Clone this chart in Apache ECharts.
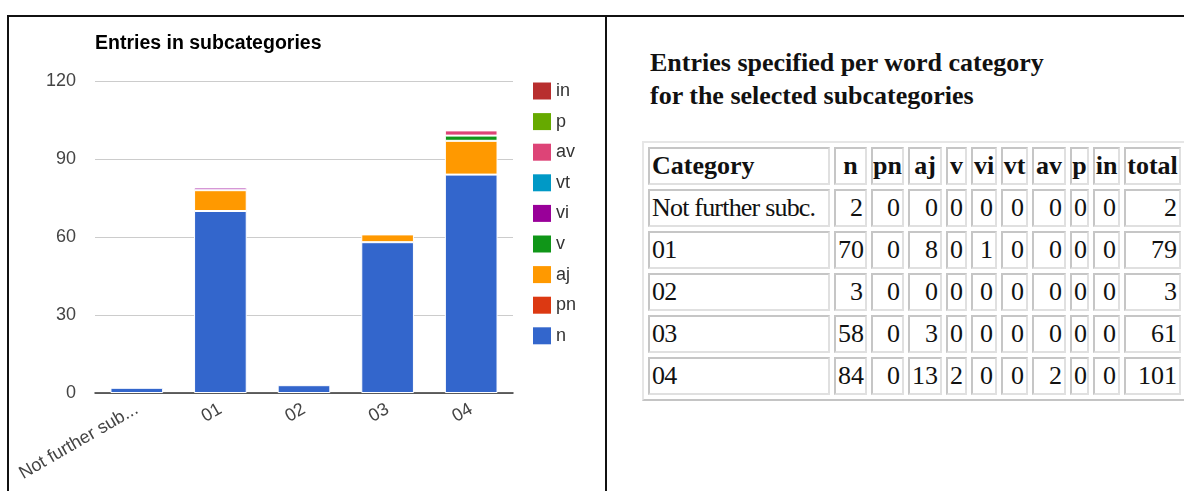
<!DOCTYPE html>
<html>
<head>
<meta charset="utf-8">
<title>Entries in subcategories</title>
<script src="https://cdn.jsdelivr.net/npm/echarts@6/dist/echarts.min.js"></script>
<style>
  html, body { margin: 0; padding: 0; background: #fff; }
  body { width: 1184px; height: 491px; position: relative; overflow: hidden; }
  #chart { position: absolute; left: 0; top: 0; width: 605px; height: 491px; }
  .rule { position: absolute; background: #111; }
  #side { position: absolute; left: 650px; top: 46px; font-family: "Liberation Serif", "Times New Roman", serif; color: #111; }
  #side h3 { margin: 0; font-size: 26px; line-height: 33px; font-weight: bold; }
  #tbl {
    position: absolute; left: 642px; top: 141px; width: 545px;
    border-collapse: separate; border-spacing: 4px; table-layout: fixed;
    border: 2px solid; border-color: #e6e6e6 #c4c4c4 #c4c4c4 #e6e6e6;
    font-family: "Liberation Serif", "Times New Roman", serif; font-size: 26px; color: #111;
  }
  #tbl td, #tbl th {
    box-sizing: border-box; height: 38px; padding: 0 2px; white-space: nowrap; overflow: hidden;
    border: 2px solid; border-color: #c6c6c6 #e0e0e0 #e0e0e0 #c6c6c6;
    text-align: right; font-weight: normal; line-height: 30px;
  }
  #tbl th { font-weight: bold; text-align: center; padding: 0; }
  #tbl th.cat { padding: 0 2px; }
  #tbl .cat { text-align: left; }
  #tbl td.cat { letter-spacing: -0.8px; }
</style>
</head>
<body>
<div id="chart"></div>
<div class="rule" style="left:7px;top:15px;width:1177px;height:2px;"></div>
<div class="rule" style="left:7px;top:15px;width:2px;height:476px;"></div>
<div class="rule" style="left:605px;top:15px;width:2px;height:476px;"></div>
<div id="side">
  <h3>Entries specified per word category<br>for the selected subcategories</h3>
</div>
<table id="tbl"></table>
<script>
// Subcategories and the number of entries per word category
const categories = ['Not further subc.', '01', '02', '03', '04'];
const wordClasses = ['n', 'pn', 'aj', 'v', 'vi', 'vt', 'av', 'p', 'in'];
const nVals  = [2, 70, 3, 58, 84];
const pnVals = [0, 0, 0, 0, 0];
const ajVals = [0, 8, 0, 3, 13];
const vVals  = [0, 0, 0, 0, 2];
const viVals = [0, 1, 0, 0, 0];
const vtVals = [0, 0, 0, 0, 0];
const avVals = [0, 0, 0, 0, 2];
const pVals  = [0, 0, 0, 0, 0];
const inVals = [0, 0, 0, 0, 0];
const yTicks = [0, 30, 60, 90, 120];

const classValues = [nVals, pnVals, ajVals, vVals, viVals, vtVals, avVals, pVals, inVals];
const classColors = ['#3366cc', '#dc3912', '#ff9900', '#109618', '#990099', '#0099c6', '#dd4477', '#66aa00', '#b82e2e'];
const totals = categories.map((_, i) => classValues.reduce((s, arr) => s + arr[i], 0));

// ---- stacked column chart ----
const chart = echarts.init(document.getElementById('chart'), null, { renderer: 'canvas' });
const font = '"Liberation Sans", Arial, sans-serif';

const series = wordClasses.map((name, k) => ({
  name: name,
  type: 'bar',
  stack: 'entries',
  barWidth: '63%',
  itemStyle: { color: classColors[k], borderColor: '#ffffff', borderWidth: 1 },
  emphasis: { disabled: true },
  data: classValues[k].map(v => (v === 0 ? null : v))
}));

chart.setOption({
  animation: false,
  textStyle: { fontFamily: font },
  title: {
    text: 'Entries in subcategories',
    left: 90, top: 29,
    textStyle: { fontFamily: font, fontSize: 19.5, fontWeight: 'bold', color: '#000' }
  },
  legend: {
    orient: 'vertical',
    left: 528, top: 77,
    itemWidth: 18, itemHeight: 17, itemGap: 12.6,
    icon: 'rect',
    itemStyle: { borderWidth: 0 },
    data: wordClasses.slice().reverse(),
    textStyle: { fontFamily: font, fontSize: 18, color: '#333', lineHeight: 17 }
  },
  grid: { left: 95, top: 81, width: 418, height: 312, containLabel: false, outerBoundsMode: 'none' },
  xAxis: {
    type: 'category',
    data: categories,
    axisTick: { show: false },
    axisLine: { lineStyle: { color: '#333', width: 1.5 } },
    axisLabel: {
      rotate: 30, margin: 15, fontSize: 18, color: '#444', fontFamily: font,
      formatter: s => (s.length > 15 ? s.slice(0, 15) + '...' : s)
    }
  },
  yAxis: {
    type: 'value',
    min: yTicks[0], max: yTicks[yTicks.length - 1], interval: yTicks[1] - yTicks[0],
    axisLine: { show: false },
    axisTick: { show: false },
    splitLine: { lineStyle: { color: '#cccccc', width: 1 } },
    axisLabel: { margin: 19, fontSize: 18, color: '#444', fontFamily: font }
  },
  series: series
});

// ---- table of entries per word category ----
const tbl = document.getElementById('tbl');
const colWidths = [182, 33, 33, 34, 21, 26, 27, 34, 19, 27, 57];
const colgroup = document.createElement('colgroup');
colWidths.forEach(w => {
  const c = document.createElement('col');
  c.style.width = w + 'px';
  colgroup.appendChild(c);
});
tbl.appendChild(colgroup);

const head = document.createElement('tr');
['Category'].concat(wordClasses, ['total']).forEach((h, j) => {
  const th = document.createElement('th');
  th.textContent = h;
  if (j === 0) th.className = 'cat';
  head.appendChild(th);
});
tbl.appendChild(head);

categories.forEach((cat, i) => {
  const tr = document.createElement('tr');
  const c0 = document.createElement('td');
  c0.className = 'cat';
  c0.textContent = cat;
  tr.appendChild(c0);
  classValues.forEach(arr => {
    const td = document.createElement('td');
    td.textContent = arr[i];
    tr.appendChild(td);
  });
  const tt = document.createElement('td');
  tt.textContent = totals[i];
  tr.appendChild(tt);
  tbl.appendChild(tr);
});
</script>
</body>
</html>
